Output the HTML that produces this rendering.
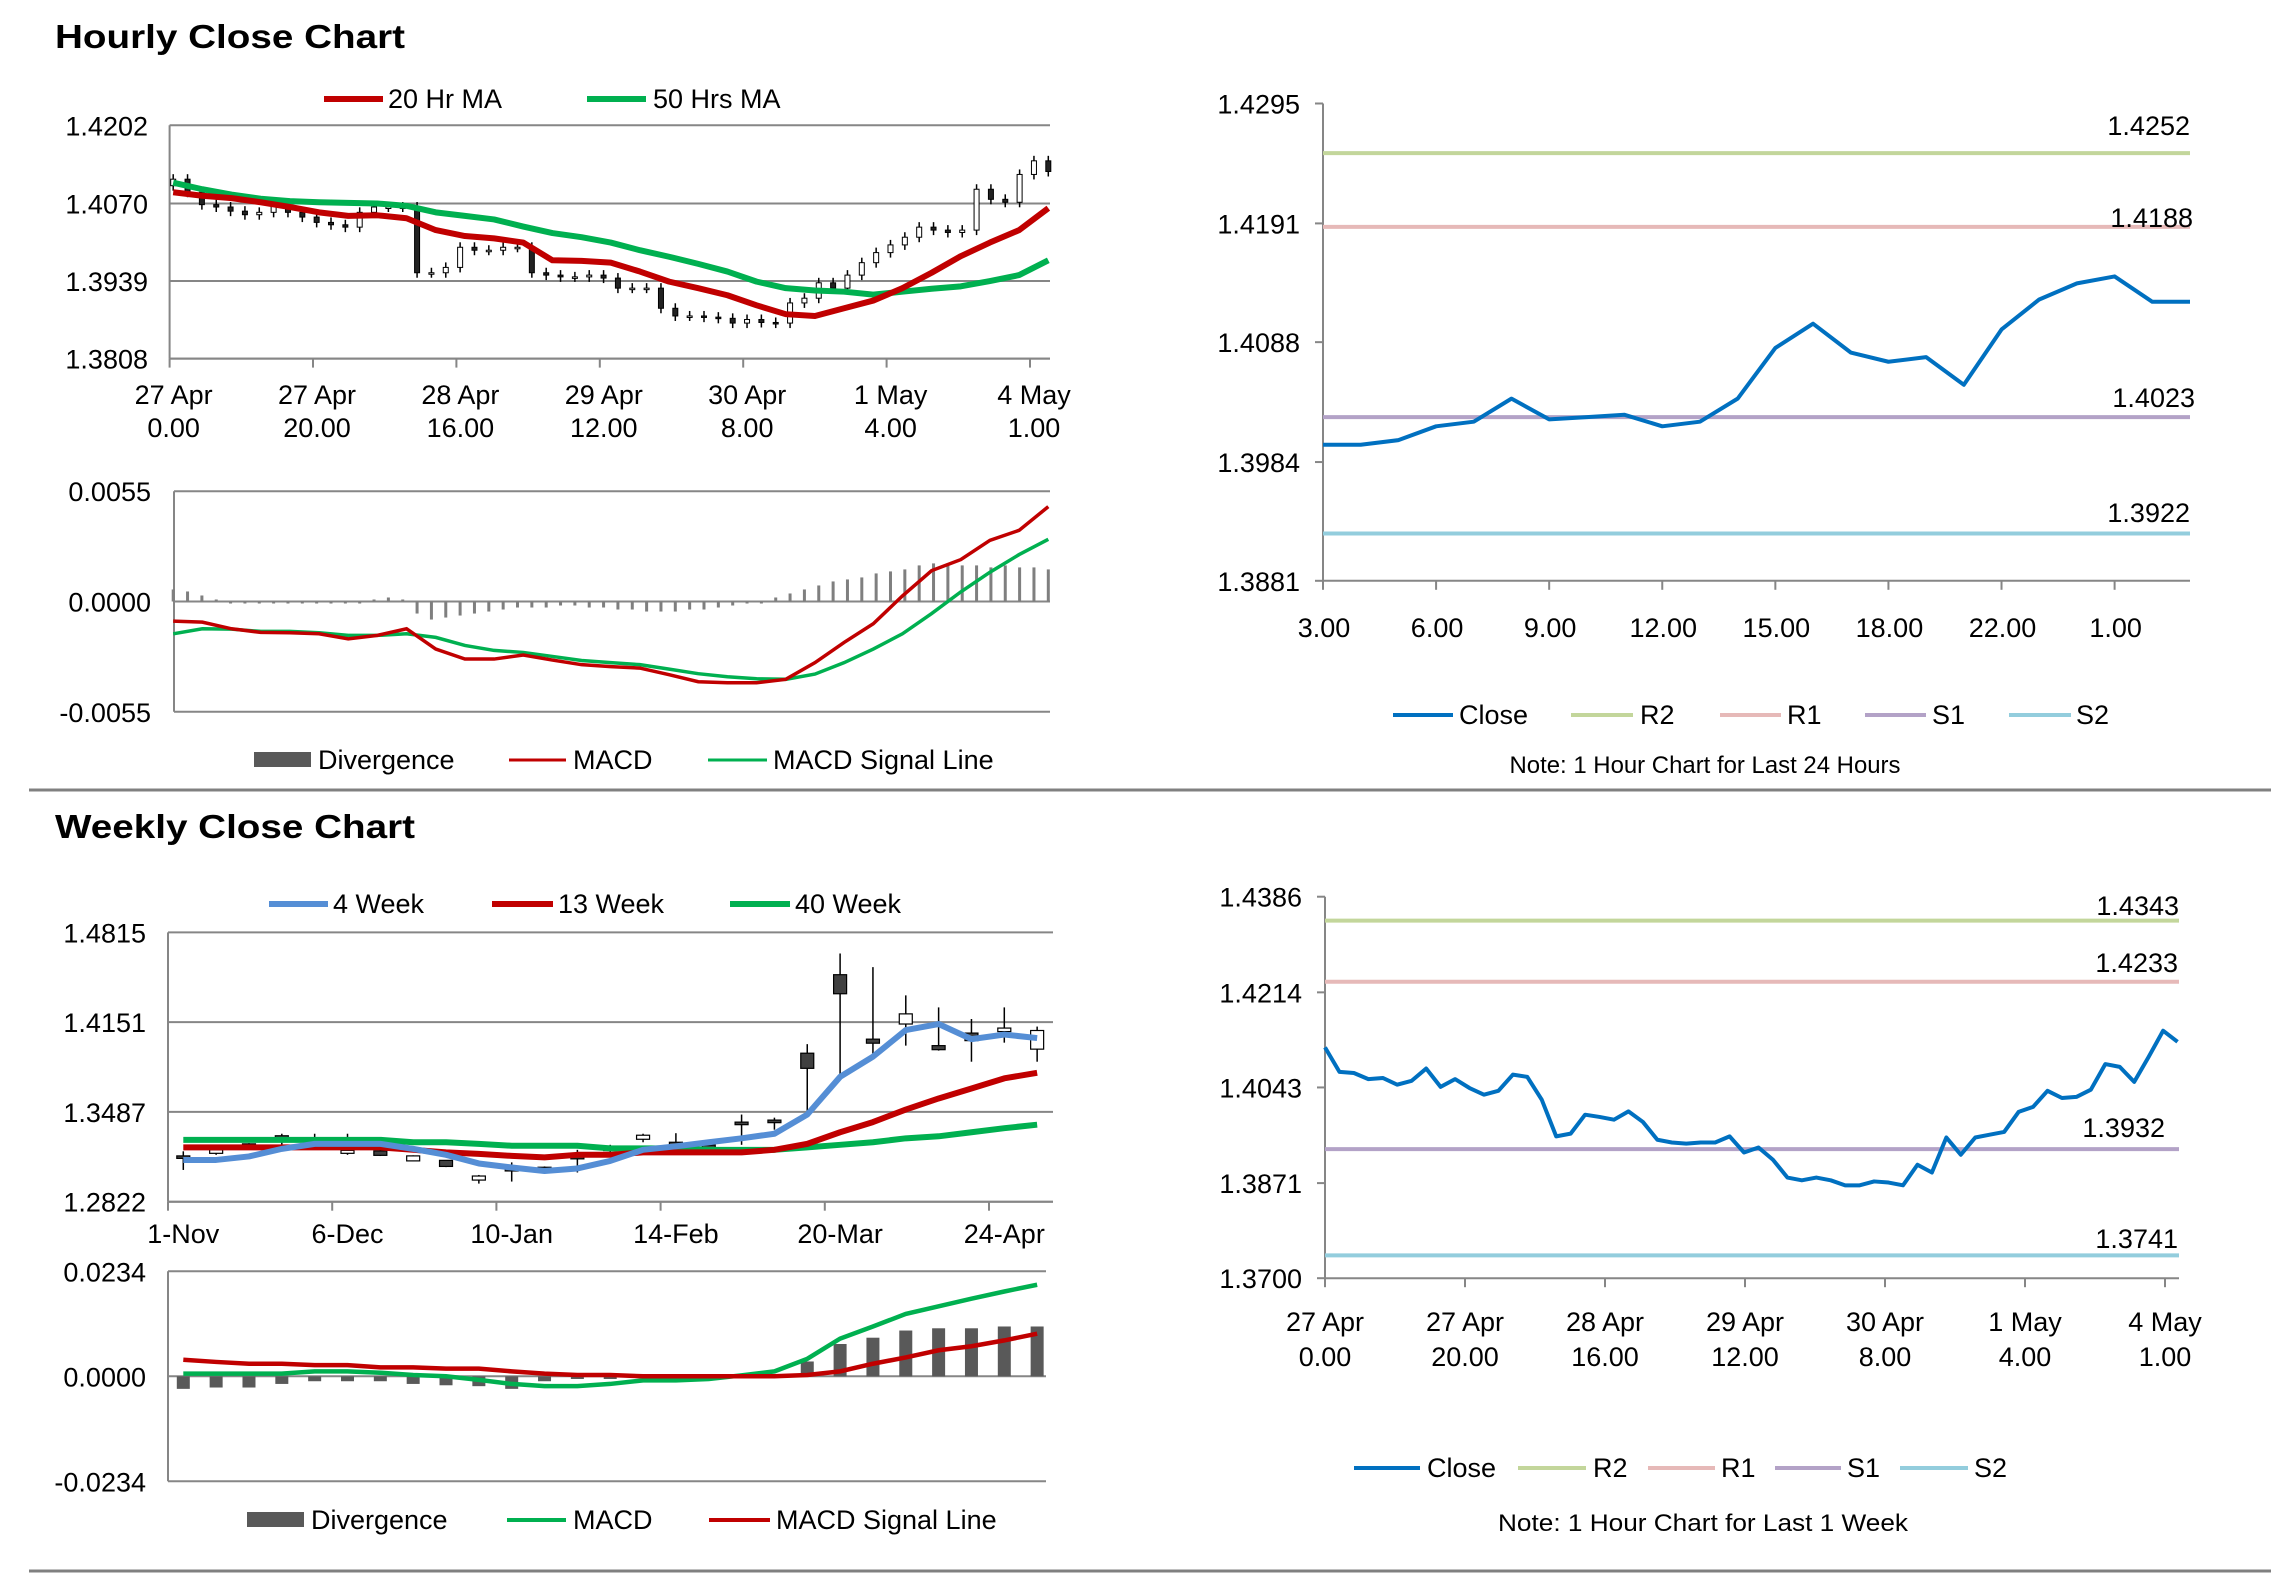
<!DOCTYPE html>
<html><head><meta charset="utf-8">
<style>
html,body{margin:0;padding:0;background:#fff;}
svg{display:block;font-family:"Liberation Sans",sans-serif;}
</style></head>
<body>
<svg id="root" width="2291" height="1577" viewBox="0 0 2291 1577" xmlns="http://www.w3.org/2000/svg">
<rect width="2291" height="1577" fill="#fff"/>
<text x="55" y="48" font-size="33" font-weight="bold" textLength="350" lengthAdjust="spacingAndGlyphs">Hourly Close Chart</text>
<text x="55" y="838" font-size="33" font-weight="bold" textLength="360" lengthAdjust="spacingAndGlyphs">Weekly Close Chart</text>
<line x1="29" y1="790" x2="2271" y2="790" stroke="#808080" stroke-width="3"/>
<line x1="29" y1="1571" x2="2271" y2="1571" stroke="#808080" stroke-width="3"/>

<g>
<line x1="324" y1="99" x2="383" y2="99" stroke="#c00000" stroke-width="6"/>
<text x="388" y="108" font-size="27">20 Hr MA</text>
<line x1="587" y1="99" x2="646" y2="99" stroke="#00b050" stroke-width="6"/>
<text x="653" y="108" font-size="27">50 Hrs MA</text>
</g>
<g>
<rect x="254" y="752" width="57" height="15" fill="#595959"/>
<text x="318" y="769" font-size="27">Divergence</text>
<line x1="509" y1="760" x2="566" y2="760" stroke="#c00000" stroke-width="3"/>
<text x="573" y="769" font-size="27">MACD</text>
<line x1="708" y1="760" x2="767" y2="760" stroke="#00b050" stroke-width="3"/>
<text x="773" y="769" font-size="27">MACD Signal Line</text>
</g>
<g>
<line x1="1393" y1="715" x2="1453" y2="715" stroke="#0070c0" stroke-width="4"/>
<text x="1459" y="724" font-size="27">Close</text>
<line x1="1571" y1="715" x2="1633" y2="715" stroke="#c3d69b" stroke-width="4"/>
<text x="1640" y="724" font-size="27">R2</text>
<line x1="1720" y1="715" x2="1781" y2="715" stroke="#e6b9b8" stroke-width="4"/>
<text x="1787" y="724" font-size="27">R1</text>
<line x1="1865" y1="715" x2="1926" y2="715" stroke="#b3a2c7" stroke-width="4"/>
<text x="1932" y="724" font-size="27">S1</text>
<line x1="2009" y1="715" x2="2071" y2="715" stroke="#93cddd" stroke-width="4"/>
<text x="2076" y="724" font-size="27">S2</text>
<text x="1705" y="773" font-size="24" text-anchor="middle" textLength="391" lengthAdjust="spacingAndGlyphs">Note: 1 Hour Chart for Last 24 Hours</text>
</g>
<g>
<line x1="269" y1="904" x2="328" y2="904" stroke="#558ed5" stroke-width="6"/>
<text x="333" y="913" font-size="27">4 Week</text>
<line x1="492" y1="904" x2="553" y2="904" stroke="#c00000" stroke-width="6"/>
<text x="558" y="913" font-size="27">13 Week</text>
<line x1="730" y1="904" x2="790" y2="904" stroke="#00b050" stroke-width="6"/>
<text x="795" y="913" font-size="27">40 Week</text>
</g>
<g>
<rect x="247" y="1512" width="57" height="15" fill="#595959"/>
<text x="311" y="1529" font-size="27">Divergence</text>
<line x1="507" y1="1520" x2="566" y2="1520" stroke="#00b050" stroke-width="4"/>
<text x="573" y="1529" font-size="27">MACD</text>
<line x1="709" y1="1520" x2="770" y2="1520" stroke="#c00000" stroke-width="4"/>
<text x="776" y="1529" font-size="27">MACD Signal Line</text>
</g>
<g>
<line x1="1354" y1="1468" x2="1420" y2="1468" stroke="#0070c0" stroke-width="4"/>
<text x="1427" y="1477" font-size="27">Close</text>
<line x1="1518" y1="1468" x2="1586" y2="1468" stroke="#c3d69b" stroke-width="4"/>
<text x="1593" y="1477" font-size="27">R2</text>
<line x1="1648" y1="1468" x2="1715" y2="1468" stroke="#e6b9b8" stroke-width="4"/>
<text x="1721" y="1477" font-size="27">R1</text>
<line x1="1775" y1="1468" x2="1841" y2="1468" stroke="#b3a2c7" stroke-width="4"/>
<text x="1847" y="1477" font-size="27">S1</text>
<line x1="1900" y1="1468" x2="1968" y2="1468" stroke="#93cddd" stroke-width="4"/>
<text x="1974" y="1477" font-size="27">S2</text>
<text x="1703" y="1531" font-size="24" text-anchor="middle" textLength="410" lengthAdjust="spacingAndGlyphs">Note: 1 Hour Chart for  Last 1 Week</text>
</g>
<g id="charts"></g>
</svg>
<script>
// ---- Hourly candle chart data ----
const hourlyCloses = [1.4111,1.4089,1.4068,1.4064,1.4057,1.4051,1.4055,1.4066,1.4055,1.4047,1.4038,1.4034,1.4030,1.4055,1.4064,1.4064,1.4064,1.3953,1.3953,1.3962,1.3996,1.3991,1.3991,1.3996,1.3996,1.3953,1.3949,1.3946,1.3946,1.3949,1.3944,1.3927,1.3927,1.3927,1.3893,1.3880,1.3880,1.3878,1.3876,1.3868,1.3874,1.3869,1.3868,1.3902,1.3910,1.3936,1.3927,1.3949,1.3970,1.3987,1.4000,1.4013,1.4030,1.4025,1.4021,1.4025,1.4094,1.4077,1.4072,1.4119,1.4142,1.4124];
const ma20 = [1.4089,1.4083,1.4079,1.4072,1.4064,1.4055,1.4049,1.4050,1.4045,1.4025,1.4015,1.4011,1.4004,1.3974,1.3973,1.3970,1.3955,1.3938,1.3927,1.3915,1.3898,1.3883,1.3880,1.3893,1.3906,1.3927,1.3953,1.3981,1.4004,1.4025,1.4062];
const ma50 = [1.4105,1.4094,1.4085,1.4078,1.4074,1.4072,1.4071,1.4070,1.4066,1.4055,1.4049,1.4043,1.4031,1.4020,1.4013,1.4004,1.3991,1.3980,1.3968,1.3955,1.3938,1.3927,1.3923,1.3921,1.3916,1.3921,1.3926,1.3930,1.3939,1.3949,1.3974];
const hourlyYTicks = [1.4202,1.4070,1.3939,1.3808];
const hourlyXLabels = [["27 Apr","0.00"],["27 Apr","20.00"],["28 Apr","16.00"],["29 Apr","12.00"],["30 Apr","8.00"],["1 May","4.00"],["4 May","1.00"]];
// ---- Hourly MACD ----
const hMacd = [-0.00098,-0.00103,-0.00136,-0.00154,-0.00156,-0.00161,-0.00186,-0.00169,-0.00136,-0.00237,-0.00287,-0.00287,-0.00267,-0.00292,-0.00315,-0.00325,-0.00332,-0.00365,-0.00400,-0.00405,-0.00405,-0.00388,-0.00305,-0.00204,-0.00111,0.00028,0.00154,0.00209,0.00305,0.00355,0.00473];
const hSignal = [-0.00161,-0.00136,-0.00138,-0.00149,-0.00149,-0.00156,-0.00169,-0.00169,-0.00161,-0.00179,-0.00219,-0.00244,-0.00254,-0.00274,-0.00294,-0.00305,-0.00315,-0.00337,-0.00360,-0.00375,-0.00385,-0.00388,-0.00362,-0.00305,-0.00237,-0.00161,-0.00060,0.00048,0.00146,0.00234,0.00310];
const hDiv = [0.0006,0.0005,0.0003,0.0001,-0.0001,-0.0001,-0.0001,-0.0001,-0.0001,-0.0001,-0.0001,-0.0001,-0.0001,-0.0001,0.0001,0.0002,0.0001,-0.0006,-0.0009,-0.0008,-0.0007,-0.0006,-0.0005,-0.0004,-0.0003,-0.0003,-0.0003,-0.0002,-0.0002,-0.0003,-0.0003,-0.0004,-0.0004,-0.0005,-0.0005,-0.0005,-0.0004,-0.0004,-0.0003,-0.0002,-0.0001,-0.0001,0.0002,0.0004,0.0006,0.0008,0.0010,0.0011,0.0012,0.0014,0.0015,0.0016,0.0018,0.0019,0.0019,0.0018,0.0018,0.0017,0.0018,0.0017,0.0017,0.0016];
const hMacdTicks = [0.0055,0.0000,-0.0055];
const hMacdTickLabels = ["0.0055","0.0000","-0.0055"];
// ---- Day pivot chart ----
const dayClose = [1.3999,1.3999,1.4003,1.4015,1.4019,1.4039,1.4021,1.4023,1.4025,1.4015,1.4019,1.4039,1.4083,1.4104,1.4079,1.4071,1.4075,1.4051,1.4099,1.4125,1.4139,1.4145,1.4123,1.4123];
const dayLevels = [1.4252,1.4188,1.4023,1.3922];
const dayLevelNames = ["r2","r1","s1","s2"];
const dayYTicks = [1.4295,1.4191,1.4088,1.3984,1.3881];
const dayXLabels = ["3.00","6.00","9.00","12.00","15.00","18.00","22.00","1.00"];
// ---- Weekly candles ----
const wOpen = [1.3161,1.3180,1.3250,1.3310,1.3275,1.3180,1.3198,1.3124,1.3128,1.2982,1.3068,1.3077,1.3161,1.3219,1.3284,1.3262,1.3241,1.3411,1.3426,1.3921,1.4502,1.4025,1.4137,1.3977,1.4070,1.4081,1.3951];
const wClose = [1.3158,1.3206,1.3236,1.3299,1.3271,1.3202,1.3165,1.3161,1.3083,1.3012,1.3053,1.3073,1.3139,1.3215,1.3314,1.3247,1.3237,1.3392,1.3407,1.3809,1.4361,1.3995,1.4212,1.3947,1.4014,1.4107,1.4089];
const wHigh = [1.3195,1.3243,1.3255,1.3325,1.3325,1.3325,1.3205,1.3165,1.3130,1.3020,1.3113,1.3083,1.3206,1.3243,1.3325,1.3329,1.3262,1.3467,1.3444,1.3988,1.4659,1.4558,1.4349,1.4260,1.4174,1.4260,1.4118];
const wLow = [1.3057,1.3169,1.3230,1.3195,1.3243,1.3169,1.3160,1.3120,1.3078,1.2956,1.2971,1.3057,1.3038,1.3187,1.3262,1.3224,1.3217,1.3243,1.3355,1.3485,1.3765,1.3914,1.3977,1.3940,1.3858,1.3999,1.3858];
const w4 = [1.3131,1.3131,1.3157,1.3213,1.3250,1.3250,1.3250,1.3213,1.3169,1.3105,1.3075,1.3049,1.3068,1.3124,1.3206,1.3232,1.3262,1.3291,1.3325,1.3467,1.3746,1.3895,1.4092,1.4137,1.4025,1.4059,1.4033];
const w13 = [1.3224,1.3224,1.3224,1.3224,1.3224,1.3224,1.3224,1.3206,1.3187,1.3176,1.3161,1.3150,1.3169,1.3169,1.3187,1.3187,1.3187,1.3187,1.3206,1.3250,1.3336,1.3411,1.3504,1.3586,1.3660,1.3735,1.3776];
const w40 = [1.3280,1.3280,1.3280,1.3280,1.3280,1.3280,1.3280,1.3262,1.3262,1.3250,1.3236,1.3236,1.3236,1.3217,1.3217,1.3217,1.3206,1.3206,1.3206,1.3224,1.3243,1.3262,1.3291,1.3306,1.3336,1.3366,1.3392];
const weeklyYTicks = [1.4815,1.4151,1.3487,1.2822];
const weeklyXLabels = ["1-Nov","6-Dec","10-Jan","14-Feb","20-Mar","24-Apr"];
// ---- Weekly MACD ----
const wDiv = [-0.0028,-0.0025,-0.0025,-0.0017,-0.0011,-0.0011,-0.0011,-0.0017,-0.0020,-0.0022,-0.0028,-0.0011,-0.0006,-0.0006,-0.0003,-0.0002,0,0,0.0003,0.0033,0.0072,0.0086,0.0102,0.0107,0.0107,0.0111,0.0111];
const wMacd = [0.0006,0.0006,0.0006,0.0006,0.0011,0.0011,0.0008,0.0003,0,-0.0008,-0.0017,-0.0022,-0.0022,-0.0017,-0.0009,-0.0009,-0.0006,0.0002,0.0011,0.0039,0.0084,0.0111,0.0139,0.0156,0.0173,0.0189,0.0204];
const wSignal = [0.0037,0.0032,0.0028,0.0028,0.0025,0.0025,0.0020,0.0020,0.0017,0.0017,0.0011,0.0006,0.0003,0.0003,0,0,0,0,0,0.0003,0.0011,0.0028,0.0042,0.0058,0.0067,0.0080,0.0095];
const wMacdTicks = [0.0234,0.0000,-0.0234];
const wMacdTickLabels = ["0.0234","0.0000","-0.0234"];
// ---- Week pivot chart ----
const weekClose = [1.4115,1.4071,1.4069,1.4058,1.4060,1.4048,1.4055,1.4077,1.4044,1.4058,1.4042,1.4030,1.4037,1.4066,1.4062,1.4021,1.3955,1.3960,1.3994,1.3990,1.3985,1.4000,1.3981,1.3949,1.3944,1.3942,1.3944,1.3944,1.3955,1.3926,1.3935,1.3913,1.3881,1.3876,1.3881,1.3876,1.3867,1.3867,1.3874,1.3872,1.3867,1.3904,1.3890,1.3953,1.3922,1.3953,1.3958,1.3963,1.3999,1.4008,1.4037,1.4024,1.4026,1.4039,1.4085,1.4080,1.4053,1.4098,1.4145,1.4125];
const weekLevels = [1.4343,1.4233,1.3932,1.3741];
const weekYTicks = [1.4386,1.4214,1.4043,1.3871,1.3700];

const NS = "http://www.w3.org/2000/svg";
const root = document.getElementById("charts");
function mk(tag, attrs, parent) {
  const e = document.createElementNS(NS, tag);
  for (const k in attrs) e.setAttribute(k, attrs[k]);
  (parent || root).appendChild(e);
  return e;
}
function tx(p, x, y, s, size, anchor) {
  const t = mk("text", {x: x, y: y, "font-size": size, "text-anchor": anchor || "start", fill: "#000"}, p);
  t.textContent = s;
  return t;
}
const GRID = "#868686";
const xA = i => 173.2 + i * (1048.3 - 173.2) / (hourlyCloses.length - 1);
const xK = (k, n) => xA(k * (hourlyCloses.length - 1) / (n - 1));

// ===== Chart A: hourly candles =====
(function () {
  const g = mk("g", {});
  
  
  const L = 169.6, R = 1050, T = 125.3, B = 358.6;
  const yA = p => T + (1.4202 - p) / 0.0394 * (B - T);
  hourlyYTicks.forEach(v => {
    const gl = mk("line", {x1: L, x2: R, y1: yA(v), y2: yA(v), stroke: GRID, "stroke-width": 2}, g);
    
    
    const t = tx(g, 148, yA(v) + 10, v.toFixed(4), 27, "end");
    
    
  });
  const ax = mk("line", {x1: L, x2: L, y1: T, y2: B, stroke: GRID, "stroke-width": 2}, g);
  
  
  hourlyXLabels.forEach((lb, j) => {
    const x = L + j * 143.4;
    const tk = mk("line", {x1: x, x2: x, y1: B, y2: B + 9, stroke: GRID, "stroke-width": 2}, g);
    
    
    const t1 = tx(g, x + 4, 404, lb[0], 27, "middle");
    
    
    const t2 = tx(g, x + 4, 437, lb[1], 27, "middle");
    
    
  });
  hourlyCloses.forEach((c, i) => {
    const o = i === 0 ? 1.4100 : hourlyCloses[i - 1];
    const x = xA(i);
    const top = Math.min(yA(o), yA(c)), bot = Math.max(yA(o), yA(c));
    const w = mk("line", {x1: x, x2: x, y1: top - 5, y2: bot + 5, stroke: "#000", "stroke-width": 1.5}, g);
    
    
    const b = mk("rect", {x: x - 2.5, y: top, width: 5, height: Math.max(bot - top, 1.5), fill: c < o ? "#222" : "#fff", stroke: "#000", "stroke-width": 1}, g);
    
    
  });
  const p50 = mk("polyline", {points: ma50.map((v, k) => xK(k, ma50.length) + "," + yA(v)).join(" "), fill: "none", stroke: "#00b050", "stroke-width": 6, "stroke-linejoin": "round"}, g);
  
  
  const p20 = mk("polyline", {points: ma20.map((v, k) => xK(k, ma20.length) + "," + yA(v)).join(" "), fill: "none", stroke: "#c00000", "stroke-width": 6, "stroke-linejoin": "round"}, g);
  
  
  const bx = mk("line", {x1: L, x2: R, y1: B, y2: B, stroke: GRID, "stroke-width": 2}, g);
  
  
})();

// ===== Chart B: hourly MACD =====
(function () {
  const g = mk("g", {});
  
  
  const L = 174, R = 1050, Z = 601.5;
  const yB = v => Z - v / 0.0055 * 110.3;
  hMacdTicks.forEach((v, j) => {
    const gl = mk("line", {x1: L, x2: R, y1: yB(v), y2: yB(v), stroke: GRID, "stroke-width": 2}, g);
    
    
    const t = tx(g, 151, yB(v) + 10, hMacdTickLabels[j], 27, "end");
    
    
  });
  const ax = mk("line", {x1: L, x2: L, y1: yB(0.0055), y2: yB(-0.0055), stroke: GRID, "stroke-width": 2}, g);
  
  
  hDiv.forEach((v, i) => {
    const y0 = yB(0), y1 = yB(v);
    const b = mk("rect", {x: xA(i) - 1.5, y: Math.min(y0, y1), width: 3, height: Math.abs(y1 - y0), fill: "#7f7f7f"}, g);
    
    
  });
  const ps = mk("polyline", {points: hSignal.map((v, k) => xK(k, hSignal.length) + "," + yB(v)).join(" "), fill: "none", stroke: "#00b050", "stroke-width": 3.5}, g);
  
  
  const pm = mk("polyline", {points: hMacd.map((v, k) => xK(k, hMacd.length) + "," + yB(v)).join(" "), fill: "none", stroke: "#c00000", "stroke-width": 3.5}, g);
  
  
})();

// ===== Pivot charts (C and F) =====
function pivotChart(name, close, levels, yTicks, L, R, T, B, xStep, levelLabelY, levelLabelX, xLabelFn) {
  const g = mk("g", {});
  
  
  const lo = yTicks[yTicks.length - 1], hi = yTicks[0];
  const y = p => T + (hi - p) / (hi - lo) * (B - T);
  const x = i => L + i * xStep;
  const cols = ["#c3d69b", "#e6b9b8", "#b3a2c7", "#93cddd"];
  const ax = mk("line", {x1: L, x2: L, y1: T, y2: B, stroke: GRID, "stroke-width": 2}, g);
  
  
  yTicks.forEach(v => {
    const tk = mk("line", {x1: L - 8, x2: L, y1: y(v), y2: y(v), stroke: GRID, "stroke-width": 2}, g);
    
    
    const t = tx(g, L - 23, y(v) + 10, v.toFixed(4), 27, "end");
    
    
  });
  levels.forEach((v, j) => {
    const ln = mk("line", {x1: L, x2: R, y1: y(v), y2: y(v), stroke: cols[j], "stroke-width": 4}, g);
    
    
    const t = tx(g, levelLabelX[j], levelLabelY[j], v.toFixed(4), 27, "end");
    
    
  });
  const pl = mk("polyline", {points: close.map((v, i) => x(i) + "," + y(v)).join(" "), fill: "none", stroke: "#0070c0", "stroke-width": 4, "stroke-linejoin": "round"}, g);
  
  
  const bx = mk("line", {x1: L, x2: R, y1: B, y2: B, stroke: GRID, "stroke-width": 2}, g);
  
  
  xLabelFn(g, B);
}
pivotChart("day-pivot-chart", dayClose, dayLevels, dayYTicks, 1323, 2190, 103.5, 580.8, (2190 - 1323) / 23,
  [135, 227, 407, 522], [2190, 2193, 2195, 2190],
  function (g, B) {
    dayXLabels.forEach((s, j) => {
      const x = 1323 + 3 * j * (2190 - 1323) / 23;
      const tk = mk("line", {x1: x, x2: x, y1: B, y2: B + 9, stroke: GRID, "stroke-width": 2}, g);
      
      
      const t = tx(g, x + 1, 637, s, 27, "middle");
      
      
    });
  });
pivotChart("week-pivot-chart", weekClose, weekLevels, weekYTicks, 1325, 2179, 896.7, 1278.2, 14.45,
  [915, 972, 1137, 1248], [2179, 2178, 2165, 2178],
  function (g, B) {
    hourlyXLabels.forEach((lb, j) => {
      const x = 1325 + j * 140;
      const tk = mk("line", {x1: x, x2: x, y1: B, y2: B + 9, stroke: GRID, "stroke-width": 2}, g);
      
      
      const t1 = tx(g, x, 1331, lb[0], 27, "middle");
      
      
      const t2 = tx(g, x, 1366, lb[1], 27, "middle");
      
      
    });
  });

// ===== Chart D: weekly candles =====
(function () {
  const g = mk("g", {});
  
  
  const L = 168, R = 1053, T = 932.4, B = 1201.7;
  const yD = p => T + (1.4815 - p) / 0.1993 * (B - T);
  const xD = i => 183.3 + i * 32.84;
  weeklyYTicks.forEach(v => {
    const gl = mk("line", {x1: L, x2: R, y1: yD(v), y2: yD(v), stroke: GRID, "stroke-width": 2}, g);
    
    
    const t = tx(g, 146, yD(v) + 10, v.toFixed(4), 27, "end");
    
    
  });
  const ax = mk("line", {x1: L, x2: L, y1: T, y2: B, stroke: GRID, "stroke-width": 2}, g);
  
  
  weeklyXLabels.forEach((s, j) => {
    const x = L + 5 * j * 32.84;
    const tk = mk("line", {x1: x, x2: x, y1: B, y2: B + 9, stroke: GRID, "stroke-width": 2}, g);
    
    
    const t = tx(g, xD(5 * j), 1243, s, 27, "middle");
    
    
  });
  wOpen.forEach((o, i) => {
    const c = wClose[i], x = xD(i);
    const w = mk("line", {x1: x, x2: x, y1: yD(wHigh[i]), y2: yD(wLow[i]), stroke: "#000", "stroke-width": 1.5}, g);
    
    
    const top = Math.min(yD(o), yD(c)), bot = Math.max(yD(o), yD(c));
    const b = mk("rect", {x: x - 6.5, y: top, width: 13, height: Math.max(bot - top, 2.5), fill: c < o ? "#404040" : "#fff", stroke: "#000", "stroke-width": 1.2}, g);
    
    
  });
  const series = [[w40, "#00b050", "ma-40week-line"], [w13, "#c00000", "ma-13week-line"], [w4, "#558ed5", "ma-4week-line"]];
  series.forEach(s => {
    const pl = mk("polyline", {points: s[0].map((v, i) => xD(i) + "," + yD(v)).join(" "), fill: "none", stroke: s[1], "stroke-width": 6, "stroke-linejoin": "round"}, g);
    
    
  });
  const bx = mk("line", {x1: L, x2: R, y1: B, y2: B, stroke: GRID, "stroke-width": 2}, g);
  
  
})();

// ===== Chart E: weekly MACD =====
(function () {
  const g = mk("g", {});
  
  
  const L = 168, R = 1046, Z = 1376.3;
  const yE = v => Z - v / 0.0234 * 105;
  const xD = i => 183.3 + i * 32.84;
  wMacdTicks.forEach((v, j) => {
    const gl = mk("line", {x1: L, x2: R, y1: yE(v), y2: yE(v), stroke: GRID, "stroke-width": 2}, g);
    
    
    const t = tx(g, 146, yE(v) + 10, wMacdTickLabels[j], 27, "end");
    
    
  });
  const ax = mk("line", {x1: L, x2: L, y1: yE(0.0234), y2: yE(-0.0234), stroke: GRID, "stroke-width": 2}, g);
  
  
  wDiv.forEach((v, i) => {
    const y0 = yE(0), y1 = yE(v);
    const b = mk("rect", {x: xD(i) - 6.5, y: Math.min(y0, y1), width: 13, height: Math.max(Math.abs(y1 - y0), 0.5), fill: "#595959"}, g);
    
    
  });
  const pm = mk("polyline", {points: wMacd.map((v, i) => xD(i) + "," + yE(v)).join(" "), fill: "none", stroke: "#00b050", "stroke-width": 4.5}, g);
  
  
  const ps = mk("polyline", {points: wSignal.map((v, i) => xD(i) + "," + yE(v)).join(" "), fill: "none", stroke: "#c00000", "stroke-width": 4.5}, g);
  
  
})();
</script>
</body></html>
